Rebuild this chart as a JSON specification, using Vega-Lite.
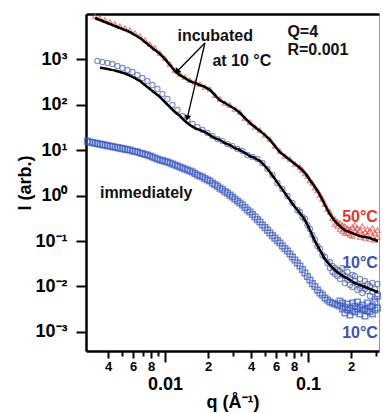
{
  "$schema": "https://vega.github.io/schema/vega-lite/v6.json",
  "width": 293,
  "height": 337,
  "autosize": {"type": "none"},
  "padding": {"left": 86, "top": 14, "right": 4, "bottom": 62},
  "background": "white",
  "config": {
    "font": "Liberation Sans",
    "view": {"stroke": "#9a9a9a", "strokeWidth": 1},
    "axis": {"domainColor": "#000", "tickColor": "#000", "labelColor": "#000", "titleColor": "#000", "labelFontWeight": "bold", "titleFontWeight": "bold", "grid": false, "labelFont": "Liberation Sans", "titleFont": "Liberation Sans"}
  },
  "datasets": {
    "sq": [
      {"q":0.002871,"I":15.74},{"q":0.002989,"I":14.97},{"q":0.003112,"I":14.59},{"q":0.00324,"I":14.23},{"q":0.003373,"I":13.87},{"q":0.003511,"I":13.52},{"q":0.003656,"I":13.18},{"q":0.003806,"I":12.85},{"q":0.003962,"I":12.53},{"q":0.004125,"I":12.22},{"q":0.004294,"I":11.91},{"q":0.00447,"I":11.61},{"q":0.004654,"I":11.32},{"q":0.004845,"I":11.04},{"q":0.005044,"I":10.77},{"q":0.005251,"I":10.5},{"q":0.005467,"I":10.23},{"q":0.005691,"I":10.0},{"q":0.005925,"I":9.506},{"q":0.006169,"I":9.268},{"q":0.006422,"I":9.036},{"q":0.006686,"I":8.59},{"q":0.00696,"I":8.375},{"q":0.007246,"I":7.962},{"q":0.007544,"I":7.762},{"q":0.007854,"I":7.379},{"q":0.008176,"I":7.014},{"q":0.008512,"I":6.668},{"q":0.008862,"I":6.338},{"q":0.009226,"I":6.025},{"q":0.009605,"I":5.874},{"q":0.01,"I":5.585},{"q":0.010411,"I":5.445},{"q":0.010838,"I":5.176},{"q":0.011284,"I":4.92},{"q":0.011747,"I":4.677},{"q":0.01223,"I":4.446},{"q":0.012732,"I":4.226},{"q":0.013255,"I":4.018},{"q":0.013799,"I":3.819},{"q":0.014366,"I":3.631},{"q":0.014956,"I":3.451},{"q":0.01557,"I":3.281},{"q":0.01621,"I":3.041},{"q":0.016876,"I":2.818},{"q":0.017569,"I":2.679},{"q":0.01829,"I":2.547},{"q":0.019042,"I":2.36},{"q":0.019824,"I":2.188},{"q":0.020638,"I":2.08},{"q":0.021486,"I":1.879},{"q":0.022368,"I":1.741},{"q":0.023287,"I":1.614},{"q":0.024243,"I":1.459},{"q":0.025239,"I":1.352},{"q":0.026276,"I":1.222},{"q":0.027355,"I":1.132},{"q":0.028478,"I":1.023},{"q":0.029648,"I":0.9268},{"q":0.030866,"I":0.8375},{"q":0.032133,"I":0.7568},{"q":0.033453,"I":0.6839},{"q":0.034827,"I":0.618},{"q":0.036257,"I":0.5445},{"q":0.037746,"I":0.4797},{"q":0.039297,"I":0.4335},{"q":0.040911,"I":0.3819},{"q":0.042591,"I":0.3365},{"q":0.04434,"I":0.2965},{"q":0.046162,"I":0.2612},{"q":0.048058,"I":0.2244},{"q":0.050032,"I":0.1977},{"q":0.052087,"I":0.1741},{"q":0.054226,"I":0.1497},{"q":0.056453,"I":0.1318},{"q":0.058772,"I":0.1161},{"q":0.061186,"I":0.1023},{"q":0.063699,"I":0.09036},{"q":0.066315,"I":0.07762},{"q":0.069039,"I":0.06839},{"q":0.071874,"I":0.06025},{"q":0.074826,"I":0.05176},{"q":0.077899,"I":0.04446},{"q":0.081099,"I":0.03819},{"q":0.08443,"I":0.03281},{"q":0.087898,"I":0.02818},{"q":0.091508,"I":0.0236},{"q":0.095267,"I":0.01977},{"q":0.099179,"I":0.01656},{"q":0.10325,"I":0.01387},{"q":0.1075,"I":0.01161},{"q":0.11191,"I":0.01},{"q":0.11651,"I":0.008375},{"q":0.12129,"I":0.007194},{"q":0.12627,"I":0.006501},{"q":0.13146,"I":0.005585},{"q":0.13686,"I":0.005047},{"q":0.14248,"I":0.00456},{"q":0.14833,"I":0.004335},{"q":0.15442,"I":0.00412},{"q":0.16077,"I":0.003918},
      {"q":0.16737,"I":0.003724},{"q":0.16737,"I":0.004797},{"q":0.17424,"I":0.003199},{"q":0.17424,"I":0.004335},{"q":0.1814,"I":0.00354},{"q":0.1814,"I":0.002612},{"q":0.18885,"I":0.00412},{"q":0.18885,"I":0.003041},{"q":0.19661,"I":0.003365},{"q":0.19661,"I":0.00236},{"q":0.20468,"I":0.002891},{"q":0.20468,"I":0.004335},{"q":0.21309,"I":0.003724},{"q":0.21309,"I":0.002748},{"q":0.22184,"I":0.003199},{"q":0.22184,"I":0.00456},{"q":0.23095,"I":0.002483},{"q":0.23095,"I":0.00354},{"q":0.24044,"I":0.003918},{"q":0.24044,"I":0.003041},{"q":0.25031,"I":0.003199},{"q":0.25031,"I":0.002244},{"q":0.26059,"I":0.004335},{"q":0.26059,"I":0.002891},{"q":0.27129,"I":0.002748},{"q":0.27129,"I":0.00354},{"q":0.28244,"I":0.003724},{"q":0.28244,"I":0.002483},{"q":0.29403,"I":0.003041},{"q":0.29403,"I":0.00456},{"q":0.30611,"I":0.003365},{"q":0.30611,"I":0.00618}
    ],
    "circ": [
      {"q":0.003373,"I":904},{"q":0.003656,"I":859},{"q":0.003962,"I":817},{"q":0.004294,"I":776},{"q":0.004654,"I":701},{"q":0.005044,"I":634},{"q":0.005467,"I":573},{"q":0.005925,"I":518},{"q":0.006422,"I":445},{"q":0.00696,"I":382},{"q":0.007544,"I":328},{"q":0.008176,"I":268},{"q":0.008862,"I":219},{"q":0.009605,"I":170},{"q":0.010411,"I":132},{"q":0.011284,"I":97.5},{"q":0.01223,"I":75.7},{"q":0.013255,"I":55.9},{"q":0.014366,"I":45.6},{"q":0.01557,"I":37.2},{"q":0.016876,"I":32.0},{"q":0.01829,"I":27.5},{"q":0.019824,"I":23.6},{"q":0.021486,"I":20.3},{"q":0.023287,"I":17.4},{"q":0.025239,"I":15.7},{"q":0.027355,"I":13.5},{"q":0.029648,"I":12.2},{"q":0.032133,"I":10.5},{"q":0.034827,"I":9.51},{"q":0.037746,"I":7.76},{"q":0.040911,"I":7.01},{"q":0.04434,"I":6.34},{"q":0.048058,"I":5.18},{"q":0.052087,"I":3.82},{"q":0.056453,"I":2.82},{"q":0.061186,"I":1.88},{"q":0.066315,"I":1.39},{"q":0.071874,"I":0.975},{"q":0.077899,"I":0.684},{"q":0.08443,"I":0.48},{"q":0.087898,"I":0.4335},{"q":0.091508,"I":0.3365},{"q":0.095267,"I":0.3041},{"q":0.099179,"I":0.2244},{"q":0.10325,"I":0.1832},{"q":0.1075,"I":0.1352},{"q":0.11191,"I":0.105},{"q":0.11651,"I":0.07762},{"q":0.12129,"I":0.06668},{"q":0.12627,"I":0.0492},{"q":0.13146,"I":0.04446},{"q":0.13686,"I":0.03281},
      {"q":0.14248,"I":0.03451},{"q":0.14248,"I":0.02547},{"q":0.14833,"I":0.02818},{"q":0.14833,"I":0.0208},{"q":0.15442,"I":0.02547},{"q":0.15442,"I":0.01879},{"q":0.16077,"I":0.02301},{"q":0.16077,"I":0.01698},{"q":0.16737,"I":0.02188},{"q":0.16737,"I":0.01459},{"q":0.17424,"I":0.01879},{"q":0.17424,"I":0.02547},{"q":0.1814,"I":0.01698},{"q":0.1814,"I":0.01191},{"q":0.18885,"I":0.0208},{"q":0.18885,"I":0.01387},{"q":0.19661,"I":0.01535},{"q":0.19661,"I":0.01077},{"q":0.20468,"I":0.01786},{"q":0.20468,"I":0.00975},{"q":0.21309,"I":0.01318},{"q":0.21309,"I":0.01698},{"q":0.22184,"I":0.01132},{"q":0.22184,"I":0.008375},{"q":0.23095,"I":0.01459},{"q":0.23095,"I":0.009268},{"q":0.24044,"I":0.01023},{"q":0.24044,"I":0.007194},{"q":0.25031,"I":0.01318},{"q":0.25031,"I":0.00881},{"q":0.26059,"I":0.007962},{"q":0.26059,"I":0.01132},{"q":0.27129,"I":0.01023},{"q":0.27129,"I":0.00618},{"q":0.28244,"I":0.01191},{"q":0.28244,"I":0.007568},{"q":0.29403,"I":0.00881},{"q":0.29403,"I":0.005309},{"q":0.30611,"I":0.01132},{"q":0.30611,"I":0.006839}
    ],
    "tri": [
      {"q":0.00324,"I":8830},{"q":0.003511,"I":7980},{"q":0.003806,"I":7210},{"q":0.004125,"I":6515},{"q":0.00447,"I":5889},{"q":0.004845,"I":5322},{"q":0.005251,"I":4808},{"q":0.005691,"I":4346},{"q":0.006169,"I":3733},{"q":0.006686,"I":3206},{"q":0.007246,"I":2618},{"q":0.007854,"I":2138},{"q":0.008512,"I":1746},{"q":0.009226,"I":1355},{"q":0.01,"I":1052},{"q":0.010838,"I":776},{"q":0.011747,"I":573},{"q":0.012732,"I":468},{"q":0.013799,"I":402},{"q":0.014956,"I":345},{"q":0.01621,"I":312},{"q":0.017569,"I":282},{"q":0.019042,"I":242},{"q":0.020638,"I":219},{"q":0.022368,"I":161},{"q":0.024243,"I":132},{"q":0.026276,"I":108},{"q":0.028478,"I":97.5},{"q":0.030866,"I":79.6},{"q":0.033453,"I":68.4},{"q":0.036257,"I":50.4},{"q":0.039297,"I":41.2},{"q":0.042591,"I":32.0},{"q":0.046162,"I":27.5},{"q":0.050032,"I":21.3},{"q":0.054226,"I":17.4},{"q":0.058772,"I":12.2},{"q":0.063699,"I":9.51},{"q":0.069039,"I":7.38},{"q":0.074826,"I":6.34},{"q":0.081099,"I":4.92},{"q":0.087898,"I":4.23},{"q":0.091508,"I":3.631},{"q":0.095267,"I":3.041},{"q":0.099179,"I":2.679},{"q":0.10325,"I":2.133},{"q":0.1075,"I":1.879},{"q":0.11191,"I":1.497},{"q":0.11651,"I":1.285},{"q":0.12129,"I":1.023},{"q":0.12627,"I":0.8375},{"q":0.13146,"I":0.6501},{"q":0.13686,"I":0.5047},{"q":0.14248,"I":0.4335},{"q":0.14833,"I":0.3199},
      {"q":0.15442,"I":0.3041},{"q":0.15442,"I":0.236},{"q":0.16077,"I":0.2612},{"q":0.16077,"I":0.2133},{"q":0.16737,"I":0.2483},{"q":0.16737,"I":0.1832},{"q":0.17424,"I":0.2244},{"q":0.17424,"I":0.1656},{"q":0.1814,"I":0.2133},{"q":0.1814,"I":0.1497},{"q":0.18885,"I":0.1928},{"q":0.18885,"I":0.1497},{"q":0.19661,"I":0.1832},{"q":0.19661,"I":0.1352},{"q":0.20468,"I":0.2028},{"q":0.20468,"I":0.1285},{"q":0.21309,"I":0.1656},{"q":0.21309,"I":0.2244},{"q":0.22184,"I":0.1497},{"q":0.22184,"I":0.1928},{"q":0.23095,"I":0.1741},{"q":0.23095,"I":0.1222},{"q":0.24044,"I":0.2133},{"q":0.24044,"I":0.1423},{"q":0.25031,"I":0.1574},{"q":0.25031,"I":0.1161},{"q":0.26059,"I":0.1832},{"q":0.26059,"I":0.1352},{"q":0.27129,"I":0.1656},{"q":0.27129,"I":0.1104},{"q":0.28244,"I":0.1928},{"q":0.28244,"I":0.1285},{"q":0.29403,"I":0.1497},{"q":0.29403,"I":0.105},{"q":0.30611,"I":0.1741},{"q":0.30611,"I":0.1222}
    ],
    "fit50": [
      {"q":0.00324,"I":7980},{"q":0.003511,"I":7210},{"q":0.003806,"I":6515},{"q":0.004125,"I":5889},{"q":0.00447,"I":5322},{"q":0.004845,"I":4808},{"q":0.005251,"I":4346},{"q":0.005691,"I":3926},{"q":0.006169,"I":3373},{"q":0.006686,"I":2898},{"q":0.007246,"I":2366},{"q":0.007854,"I":1932},{"q":0.008512,"I":1578},{"q":0.009226,"I":1288},{"q":0.01,"I":1000},{"q":0.010838,"I":738},{"q":0.011747,"I":545},{"q":0.012732,"I":445},{"q":0.013799,"I":382},{"q":0.014956,"I":328},{"q":0.01621,"I":297},{"q":0.017569,"I":268},{"q":0.019042,"I":242},{"q":0.020638,"I":208},{"q":0.022368,"I":161},{"q":0.024243,"I":125},{"q":0.026276,"I":108},{"q":0.028478,"I":92.7},{"q":0.030866,"I":79.6},{"q":0.033453,"I":65.0},{"q":0.036257,"I":50.4},{"q":0.039297,"I":39.2},{"q":0.042591,"I":32.0},{"q":0.046162,"I":26.1},{"q":0.050032,"I":21.3},{"q":0.054226,"I":16.6},{"q":0.058772,"I":12.2},{"q":0.063699,"I":9.04},{"q":0.069039,"I":7.38},{"q":0.074826,"I":6.03},{"q":0.081099,"I":4.92},{"q":0.087898,"I":4.02},{"q":0.095267,"I":3.12},{"q":0.10325,"I":2.19},{"q":0.11191,"I":1.54},{"q":0.12129,"I":1.02},{"q":0.13146,"I":0.618},{"q":0.14248,"I":0.392},{"q":0.15442,"I":0.275},{"q":0.16737,"I":0.213},{"q":0.1814,"I":0.174},{"q":0.19661,"I":0.157},{"q":0.21309,"I":0.142},{"q":0.23095,"I":0.128},{"q":0.25031,"I":0.122},{"q":0.27129,"I":0.116},{"q":0.29403,"I":0.105},{"q":0.3086,"I":0.1}
    ],
    "fit10": [
      {"q":0.003511,"I":650},{"q":0.003806,"I":618},{"q":0.004125,"I":587},{"q":0.00447,"I":558},{"q":0.004845,"I":518},{"q":0.005251,"I":480},{"q":0.005691,"I":434},{"q":0.006169,"I":382},{"q":0.006686,"I":328},{"q":0.007246,"I":268},{"q":0.007854,"I":219},{"q":0.008512,"I":179},{"q":0.009226,"I":146},{"q":0.01,"I":113},{"q":0.010838,"I":88.1},{"q":0.011747,"I":68.4},{"q":0.012732,"I":55.9},{"q":0.013799,"I":43.4},{"q":0.014956,"I":35.4},{"q":0.01621,"I":30.4},{"q":0.017569,"I":27.5},{"q":0.019042,"I":24.8},{"q":0.020638,"I":21.3},{"q":0.022368,"I":18.3},{"q":0.024243,"I":16.6},{"q":0.026276,"I":14.2},{"q":0.028478,"I":12.85},{"q":0.030866,"I":11.04},{"q":0.033453,"I":10.0},{"q":0.036257,"I":8.59},{"q":0.039297,"I":7.38},{"q":0.042591,"I":6.67},{"q":0.046162,"I":5.73},{"q":0.050032,"I":4.45},{"q":0.054226,"I":3.28},{"q":0.058772,"I":2.3},{"q":0.063699,"I":1.61},{"q":0.069039,"I":1.13},{"q":0.074826,"I":0.796},{"q":0.081099,"I":0.559},{"q":0.087898,"I":0.412},{"q":0.095267,"I":0.289},{"q":0.10325,"I":0.174},{"q":0.11191,"I":0.1},{"q":0.12129,"I":0.0634},{"q":0.13146,"I":0.0402},{"q":0.14248,"I":0.0297},{"q":0.15442,"I":0.023},{"q":0.16737,"I":0.0188},{"q":0.1814,"I":0.0161},{"q":0.19661,"I":0.0139},{"q":0.21309,"I":0.0119},{"q":0.23095,"I":0.0108},{"q":0.25031,"I":0.00975},{"q":0.27129,"I":0.00881},{"q":0.29403,"I":0.00796},{"q":0.3086,"I":0.00757}
    ],
    "notes": [
      {"q":0.01223,"I":3206,"text":"incubated","grp":"black"},
      {"q":0.02149,"I":904,"text":"at 10 °C","grp":"black"},
      {"q":0.07187,"I":3926,"text":"Q=4","grp":"black"},
      {"q":0.07187,"I":1578,"text":"R=0.001","grp":"black"},
      {"q":0.003511,"I":1.132,"text":"immediately","grp":"black"},
      {"q":0.3086,"I":0.3365,"text":"50°C","grp":"red"},
      {"q":0.3086,"I":0.03281,"text":"10°C","grp":"blue"},
      {"q":0.3086,"I":0.0009506,"text":"10°C","grp":"blue"}
    ],
    "arrows": [
      {"q":0.01904,"I":2249,"q2":0.01223,"I2":545,"head":"a"},
      {"q":0.01904,"I":2249,"q2":0.01437,"I2":53.1,"head":"b"}
    ]
  },
  "resolve": {"axis": {"x": "independent", "y": "independent"}},
  "layer": [
    {
      "data": {"name": "sq"},
      "mark": {"type": "point", "shape": "square", "filled": false, "stroke": "#3d5cc2", "strokeWidth": 1.5, "size": 32},
      "encoding": {
        "x": {"field": "q", "type": "quantitative", "scale": {"type": "log", "domain": [0.002805, 0.314], "nice": false},
          "axis": {
            "orient": "bottom",
            "values": [0.004,0.005,0.006,0.007,0.008,0.009,0.01,0.02,0.03,0.04,0.05,0.06,0.07,0.08,0.09,0.1,0.2,0.3],
            "labelExpr": "(datum.value==0.004||datum.value==0.04)?'4':(datum.value==0.006||datum.value==0.06)?'6':(datum.value==0.008||datum.value==0.08)?'8':(datum.value==0.02||datum.value==0.2)?'2':datum.value==0.01?'0.01':datum.value==0.1?'0.1':''",
            "labelFontSize": {"condition": {"test": "datum.value==0.01||datum.value==0.1", "value": 18}, "value": 13},
            "tickSize": {"condition": [{"test": "datum.value==0.01||datum.value==0.1", "value": 11}, {"test": "indexof([0.004,0.006,0.008,0.02,0.04,0.06,0.08,0.2], datum.value) >= 0", "value": 7}], "value": 5},
            "labelPadding": {"condition": {"test": "datum.value==0.01||datum.value==0.1", "value": 13}, "value": 2},
            "labelFlush": false,
            "labelOverlap": false,
            "tickWidth": 2,
            "domainWidth": 2.5,
            "title": "q (Å⁻¹)",
            "titleFontSize": 18,
            "titlePadding": 0
          }
        },
        "y": {"field": "I", "type": "quantitative", "scale": {"type": "log", "domain": [0.000382, 9772], "nice": false},
          "axis": {
            "orient": "left",
            "values": [0.001,0.01,0.1,1,10,100,1000],
            "labelExpr": "datum.value==1000?'10³':datum.value==100?'10²':datum.value==10?'10¹':datum.value==1?'10⁰':datum.value==0.1?'10⁻¹':datum.value==0.01?'10⁻²':datum.value==0.001?'10⁻³':''",
            "labelFontSize": 18,
            "tickSize": 10,
            "tickWidth": 2,
            "domainWidth": 2.5,
            "labelPadding": 9,
            "title": "I (arb.)",
            "titleFontSize": 18,
            "titlePadding": 0
          }
        }
      }
    },
    {
      "data": {"name": "circ"},
      "mark": {"type": "point", "shape": "circle", "filled": false, "stroke": "#4f62b4", "strokeWidth": 1.1, "size": 28},
      "encoding": {
        "x": {"field": "q", "type": "quantitative", "scale": {"type": "log", "domain": [0.002805, 0.314], "nice": false}, "axis": null},
        "y": {"field": "I", "type": "quantitative", "scale": {"type": "log", "domain": [0.000382, 9772], "nice": false}, "axis": null}
      }
    },
    {
      "data": {"name": "tri"},
      "mark": {"type": "point", "shape": "triangle-up", "filled": false, "stroke": "#e5453b", "strokeWidth": 1.1, "size": 26},
      "encoding": {
        "x": {"field": "q", "type": "quantitative", "scale": {"type": "log", "domain": [0.002805, 0.314], "nice": false}, "axis": null},
        "y": {"field": "I", "type": "quantitative", "scale": {"type": "log", "domain": [0.000382, 9772], "nice": false}, "axis": null}
      }
    },
    {
      "data": {"name": "fit10"},
      "mark": {"type": "line", "color": "#000", "strokeWidth": 2.5, "interpolate": "monotone"},
      "encoding": {
        "x": {"field": "q", "type": "quantitative", "scale": {"type": "log", "domain": [0.002805, 0.314], "nice": false}, "axis": null},
        "y": {"field": "I", "type": "quantitative", "scale": {"type": "log", "domain": [0.000382, 9772], "nice": false}, "axis": null}
      }
    },
    {
      "data": {"name": "fit50"},
      "mark": {"type": "line", "color": "#000", "strokeWidth": 2.5, "interpolate": "monotone"},
      "encoding": {
        "x": {"field": "q", "type": "quantitative", "scale": {"type": "log", "domain": [0.002805, 0.314], "nice": false},
          "axis": {"orient": "top", "labels": false, "ticks": false, "title": null, "domainWidth": 2.5, "domainColor": "#000"}},
        "y": {"field": "I", "type": "quantitative", "scale": {"type": "log", "domain": [0.000382, 9772], "nice": false}, "axis": null}
      }
    },
    {
      "data": {"name": "arrows"},
      "mark": {"type": "rule", "color": "#000", "strokeWidth": 1.3},
      "encoding": {
        "x": {"field": "q", "type": "quantitative", "scale": {"type": "log", "domain": [0.002805, 0.314], "nice": false}, "axis": null},
        "y": {"field": "I", "type": "quantitative", "scale": {"type": "log", "domain": [0.000382, 9772], "nice": false}, "axis": null},
        "x2": {"field": "q2"},
        "y2": {"field": "I2"}
      }
    },
    {
      "data": {"name": "arrows"},
      "transform": [{"filter": "datum.head == 'a'"}],
      "mark": {"type": "point", "shape": "triangle", "filled": true, "color": "#000", "opacity": 1, "size": 45, "angle": 224},
      "encoding": {
        "x": {"field": "q2", "type": "quantitative", "scale": {"type": "log", "domain": [0.002805, 0.314], "nice": false}, "axis": null},
        "y": {"field": "I2", "type": "quantitative", "scale": {"type": "log", "domain": [0.000382, 9772], "nice": false}, "axis": null}
      }
    },
    {
      "data": {"name": "arrows"},
      "transform": [{"filter": "datum.head == 'b'"}],
      "mark": {"type": "point", "shape": "triangle", "filled": true, "color": "#000", "opacity": 1, "size": 45, "angle": 193},
      "encoding": {
        "x": {"field": "q2", "type": "quantitative", "scale": {"type": "log", "domain": [0.002805, 0.314], "nice": false}, "axis": null},
        "y": {"field": "I2", "type": "quantitative", "scale": {"type": "log", "domain": [0.000382, 9772], "nice": false}, "axis": null}
      }
    },
    {
      "data": {"name": "notes"},
      "transform": [{"filter": "datum.grp == 'black'"}],
      "mark": {"type": "text", "align": "left", "baseline": "middle", "fontSize": 16, "fontWeight": "bold", "color": "#111"},
      "encoding": {
        "x": {"field": "q", "type": "quantitative", "scale": {"type": "log", "domain": [0.002805, 0.314], "nice": false}, "axis": null},
        "y": {"field": "I", "type": "quantitative", "scale": {"type": "log", "domain": [0.000382, 9772], "nice": false}, "axis": null},
        "text": {"field": "text"}
      }
    },
    {
      "data": {"name": "notes"},
      "transform": [{"filter": "datum.grp == 'red'"}],
      "mark": {"type": "text", "align": "right", "baseline": "middle", "fontSize": 16, "fontWeight": "bold", "color": "#e2372d"},
      "encoding": {
        "x": {"field": "q", "type": "quantitative", "scale": {"type": "log", "domain": [0.002805, 0.314], "nice": false}, "axis": null},
        "y": {"field": "I", "type": "quantitative", "scale": {"type": "log", "domain": [0.000382, 9772], "nice": false}, "axis": null},
        "text": {"field": "text"}
      }
    },
    {
      "data": {"name": "notes"},
      "transform": [{"filter": "datum.grp == 'blue'"}],
      "mark": {"type": "text", "align": "right", "baseline": "middle", "fontSize": 16, "fontWeight": "bold", "color": "#3b55b2"},
      "encoding": {
        "x": {"field": "q", "type": "quantitative", "scale": {"type": "log", "domain": [0.002805, 0.314], "nice": false}, "axis": null},
        "y": {"field": "I", "type": "quantitative", "scale": {"type": "log", "domain": [0.000382, 9772], "nice": false}, "axis": null},
        "text": {"field": "text"}
      }
    }
  ]
}
